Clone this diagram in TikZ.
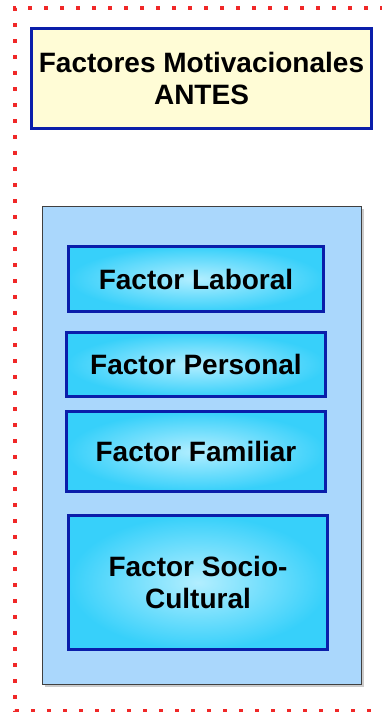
\documentclass[tikz,border=0pt]{standalone}
\usepackage{fontspec}
\setmainfont{Liberation Sans}
\usetikzlibrary{positioning, shadows}
\definecolor{softyellow}{RGB}{255, 252, 214}
\definecolor{panelblue}{RGB}{170, 215, 252}
\definecolor{boxcyan}{RGB}{55, 208, 250}
\definecolor{boxlight}{RGB}{178, 238, 255}
\definecolor{darkblue}{RGB}{10, 30, 170}
\definecolor{dotred}{RGB}{240, 40, 40}

\begin{document}
\begin{tikzpicture}[
    x=0.5pt, y=-0.5pt,
    font=\fontsize{14}{16}\selectfont\bfseries,
    title/.style={
        draw=darkblue,
        line width=1.5pt,
        fill=softyellow,
        align=center,
        minimum width=170pt,
        minimum height=50pt
    },
    panel/.style={
        draw=black!75,
        line width=0.5pt,
        fill=panelblue,
        minimum width=159.5pt,
        minimum height=239pt,
        drop shadow={opacity=0.4, shadow xshift=1pt, shadow yshift=-1pt}
    },
    factor/.style={
        draw=darkblue,
        line width=1.5pt,
        inner color=boxlight,
        outer color=boxcyan,
        align=center,
        minimum width=129.5pt
    }
]

    % Frame
    \useasboundingbox (0,0) rectangle (381,712);
    \draw[dotred, line width=2pt, dash pattern=on 2pt off 6pt] (400,8) -- (15,8) -- (15,711) -- (400,711);

    % Nodes
    \node[title] (antes) at (201.5,78.5) {Factores Motivacionales\\ANTES};
    \node[panel] (grupo) at (202,445.5) {};
    \node[factor, minimum width=127.5pt, minimum height=32.5pt] (laboral) at (196,279) {Factor Laboral};
    \node[factor, minimum height=32pt, below=9pt of laboral] (personal) {Factor Personal};
    \node[factor, minimum height=40pt, below=6pt of personal] (familiar) {Factor Familiar};
    \node[factor, minimum height=67pt, below=10.5pt of familiar, xshift=1pt] (socio) {Factor Socio-\\Cultural};

\end{tikzpicture}
\end{document}
